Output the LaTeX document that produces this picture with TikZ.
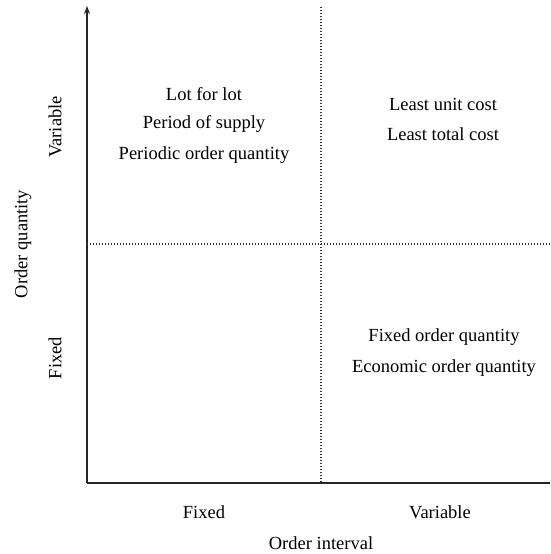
\documentclass[tikz,border=0pt]{standalone}
\usepackage{fontspec}
\setmainfont{Liberation Serif}
\usetikzlibrary{arrows.meta}
\begin{document}
\begin{tikzpicture}[x=1pt,y=-1pt,font=\fontsize{18.5}{21}\selectfont]

     \tikzstyle{axis}=[line width=1.5pt,black!85]
     \tikzstyle{grid}=[line width=1.2pt,black!80,dash pattern=on 1.4pt off 1.6pt]
     \tikzstyle{lbl}=[inner sep=0pt,anchor=center]

      \useasboundingbox (0,0) rectangle (550,554);

      \begin{scope}
         % axes
         \coordinate (o) at (87,483);
         \coordinate (top) at (87,6);
         \coordinate (right) at (550,483);
         \draw[axis,-{Stealth[length=8pt,width=6pt]}] (o) -- (top);
         \draw[axis] (o) -- (right);

         % quadrant lines
         \coordinate (vt) at (321,7);
         \coordinate (vb) at (321,483);
         \coordinate (hl) at (87,244);
         \coordinate (hr) at (550,244);
         \draw[grid] (vt) -- (vb);
         \draw[grid] (hl) -- (hr);

         % upper left
         \node[lbl] (q11) at (204,94) {Lot for lot};
         \node[lbl] (q12) at (204,124) {Period of supply};
         \node[lbl] (q13) at (204,155) {Periodic order quantity};

         % upper right
         \node[lbl] (q21) at (443,104) {Least unit cost};
         \node[lbl] (q22) at (443,134) {Least total cost};

         % lower right
         \node[lbl] (q31) at (444,337) {Fixed order quantity};
         \node[lbl] (q32) at (444,368) {Economic order quantity};

         % x labels
         \node[lbl] (xf) at (204,512) {Fixed};
         \node[lbl] (xv) at (440,512) {Variable};
         \node[lbl] (xt) at (321,543) {Order interval};

         % y labels
         \node[lbl,rotate=90] (yv) at (55,127) {Variable};
         \node[lbl,rotate=90] (yt) at (23,244) {Order quantity};
         \node[lbl,rotate=90] (yf) at (55,358) {Fixed};
      \end{scope}
\end{tikzpicture}
\end{document}
